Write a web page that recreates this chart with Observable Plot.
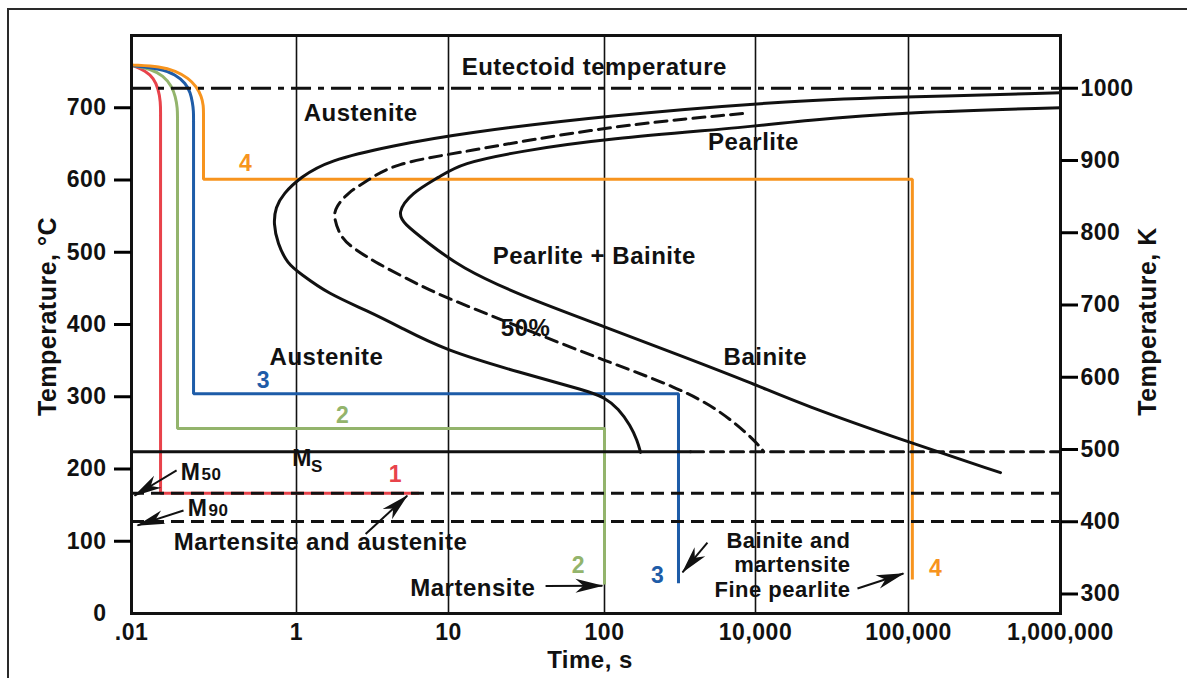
<!DOCTYPE html>
<html><head><meta charset="utf-8">
<script src="https://cdn.jsdelivr.net/npm/d3@7"></script>
<script src="https://cdn.jsdelivr.net/npm/@observablehq/plot@0.6"></script>
<style>
html,body{margin:0;padding:0;background:#fff;}
#wrap{position:relative;width:1187px;height:678px;overflow:hidden;background:#fff;}
#border{position:absolute;left:7px;top:8px;width:1400px;height:900px;border-left:2px solid #2a2a2a;border-top:2px solid #2a2a2a;}
#chart{position:absolute;left:0;top:0;}
</style></head><body>
<div id="wrap"><div id="border"></div><div id="chart"></div></div>
<script>
// ---- axes ----
const xTicks = [0.01, 1, 10, 100, 10000, 100000, 1000000];
const xTickLabels = [".01", "1", "10", "100", "10,000", "100,000", "1,000,000"];
const xGrid = [1, 10, 100, 10000, 100000];
const yTicksC = [0, 100, 200, 300, 400, 500, 600, 700];
const yTicksK = [300, 400, 500, 600, 700, 800, 900, 1000];

// ---- reference temperatures (°C) ----
const eutectoidC = 727;
const msC = 224;
const m50C = 166.5;
const m90C = 127.5;
const msSolidEnd = 1380; // s

// ---- transformation curves [time s, temperature °C] ----
const startCurve = [[1e6,720.6],[1e5,715],[19700,711],[100,689],[11.9,664.4],[4.35,647.8],[1.6,627],[1.06,603.5],[0.695,581.3],[0.556,562],[0.526,539.8],[0.589,512],[0.778,484],[1.06,470.6],[1.6,443],[2.93,419],[4.83,396],[9.3,365],[29,333],[78,308],[100,299],[153,284],[221,260],[273,239],[300,223]];
const halfCurve = [[6730,692],[100,674],[11.9,638],[4.35,622.8],[2.93,599],[2.17,582.7],[1.81,562],[1.75,548.8],[1.95,520.4],[2.37,505.2],[3.41,484.4],[5.62,460.9],[8.86,440.1],[29,396],[100,350],[927,313],[3440,281],[10000,239],[11300,224]];
const finishCurve = [[1e6,700],[1e5,694],[19700,682],[10000,674],[100,657],[29,640],[11.9,622.8],[8.86,605],[5.62,581.3],[4.62,554.3],[5.06,539.8],[7.28,513.5],[11.9,478.9],[29,440],[100,397],[1016,357],[10000,317],[19700,290],[1e5,237],[403000,195]];

// ---- cooling paths ----
const path1Head = [[0.0106,758],[0.0148,751],[0.0185,741],[0.0212,726],[0.0225,708],[0.0225,690]];
const path1Tail = [[0.0225,690],[0.0225,166.5],[6.4,166.5]];
const path2Head = [[0.0106,758],[0.017,754],[0.0245,744],[0.0306,730],[0.0341,716],[0.0361,699],[0.0361,685]];
const path2Tail = [[0.0361,685],[0.0361,256],[100,256],[100,40]];
const path3Head = [[0.0106,758],[0.0225,754],[0.0341,746],[0.0452,734],[0.0519,721],[0.0548,707],[0.0565,696],[0.0565,682]];
const path3Tail = [[0.0565,682],[0.0565,304],[955,304],[955,42]];
const path4Head = [[0.0106,759],[0.0225,757],[0.0341,751],[0.0491,741],[0.0614,729],[0.0705,716],[0.0746,703],[0.0746,690]];
const path4Tail = [[0.0746,690],[0.0746,601],[106000,601],[106000,47]];
const pathIds = ["1", "2", "3", "4"];
const pathColors = ["#e8434b", "#93b46c", "#1e5ca8", "#f7941e"];

// ---- labels ----
const regionLabels = [
  {t: 86, T: 756, text: "Eutectoid temperature"},
  {t: 2.64, T: 692, text: "Austenite"},
  {t: 9400, T: 652, text: "Pearlite"},
  {t: 86, T: 494, text: "Pearlite + Bainite"},
  {t: 31.2, T: 394.5, text: "50%"},
  {t: 1.575, T: 354, text: "Austenite"},
  {t: 11600, T: 354, text: "Bainite"},
  {t: 1.44, T: 98, text: "Martensite and austenite"},
  {t: 14.3, T: 34.6, text: "Martensite"}
];
const rightLabels = [
  {t: 41800, T: 101, text: "Bainite and"},
  {t: 41800, T: 67, text: "martensite"},
  {t: 41800, T: 32.5, text: "Fine pearlite"}
];
const pathLabels = [
  {t: 4.48, T: 192, id: "1"},
  {t: 2.01, T: 274, id: "2"},
  {t: 68, T: 66.4, id: "2"},
  {t: 0.398, T: 322.5, id: "3"},
  {t: 504, T: 52.6, id: "3"},
  {t: 0.241, T: 623, id: "4"},
  {t: 150600, T: 62.3, id: "4"}
];
const mLabels = [
  {t: 1.09, T: 214.5, text: "M"},
  {t: 0.0519, T: 195, text: "M"},
  {t: 0.0631, T: 145, text: "M"}
];
const mSubLabels = [
  {t: 1.36, T: 203.5, text: "S"},
  {t: 0.0933, T: 192, text: "50"},
  {t: 0.1135, T: 142.5, text: "90"}
];
const arrows = [
  {t1: 0.0352, T1: 198, t2: 0.01087, T2: 163},
  {t1: 0.0427, T1: 142.5, t2: 0.01183, T2: 122},
  {t1: 2.85, T1: 110, t2: 5.35, T2: 163},
  {t1: 41.9, T1: 38, t2: 97, T2: 38.5},
  {t1: 2310, T1: 98, t2: 1080, T2: 57},
  {t1: 46400, T1: 34.6, t2: 92700, T2: 55.4}
];

// ---- build tables ----
const toRows = (arr, id) => arr.map(([t, T]) => ({t, T, id}));
const heads = [...toRows(path1Head, "1"), ...toRows(path2Head, "2"), ...toRows(path3Head, "3"), ...toRows(path4Head, "4")];
const tails = [...toRows(path1Tail, "1"), ...toRows(path2Tail, "2"), ...toRows(path3Tail, "3"), ...toRows(path4Tail, "4")];
const msSolid = [[0.01, msC], [msSolidEnd, msC]];
const msDashed = [[msSolidEnd, msC], [1e6, msC]];

const FONT = "Liberation Sans, Arial, Helvetica, sans-serif";
const bold = {fontWeight: "bold", fill: "#111"};
const SVGNS = "http://www.w3.org/2000/svg";

// filled, barbed arrowhead marker
function headMarker(color, context) {
  const doc = (context && context.document) || document;
  const m = doc.createElementNS(SVGNS, "marker");
  m.setAttribute("viewBox", "-28 -8 30 16");
  m.setAttribute("markerWidth", "30");
  m.setAttribute("markerHeight", "16");
  m.setAttribute("markerUnits", "userSpaceOnUse");
  m.setAttribute("refX", "0");
  m.setAttribute("refY", "0");
  m.setAttribute("orient", "auto");
  const p = doc.createElementNS(SVGNS, "path");
  p.setAttribute("d", "M1,0L-27,-7L-19,0L-27,7Z");
  p.setAttribute("fill", color);
  p.setAttribute("stroke", "none");
  m.appendChild(p);
  return m;
}

const chart = Plot.plot({
  width: 1187,
  height: 678,
  marginLeft: 131,
  marginRight: 127,
  marginTop: 35,
  marginBottom: 65,
  style: {fontFamily: FONT, fontSize: "23px", letterSpacing: "0.5px", background: "transparent"},
  x: {type: "log", domain: xTicks, range: [131, 296, 448, 604, 755, 908, 1060], label: null},
  y: {domain: [0, 800], label: null},
  color: {domain: pathIds, range: pathColors},
  marks: [
    Plot.gridX(xGrid, {stroke: "#111", strokeOpacity: 1, strokeWidth: 1.6}),
    Plot.line(heads, {x: "t", y: "T", z: "id", stroke: "id", strokeWidth: 3, curve: "basis"}),
    Plot.line(tails, {x: "t", y: "T", z: "id", stroke: "id", strokeWidth: 3, strokeLinejoin: "miter", strokeLinecap: "butt"}),
    Plot.line(startCurve, {x: d => d[0], y: d => d[1], stroke: "#111", strokeWidth: 3, curve: "basis"}),
    Plot.line(finishCurve, {x: d => d[0], y: d => d[1], stroke: "#111", strokeWidth: 3, curve: "basis"}),
    Plot.line(halfCurve, {x: d => d[0], y: d => d[1], stroke: "#111", strokeWidth: 3, strokeDasharray: "12,7", curve: "basis"}),
    Plot.line(msSolid, {x: d => d[0], y: d => d[1], stroke: "#111", strokeWidth: 3}),
    Plot.line(msDashed, {x: d => d[0], y: d => d[1], stroke: "#111", strokeWidth: 3, strokeDasharray: "13,7"}),
    Plot.ruleY([m50C, m90C], {stroke: "#111", strokeWidth: 3, strokeDasharray: "13,7"}),
    Plot.ruleY([eutectoidC], {stroke: "#111", strokeWidth: 3, strokeDasharray: "20,7,6,7"}),
    Plot.frame({stroke: "#111", strokeWidth: 3}),
    Plot.axisY(yTicksC, {anchor: "left", tickSize: 0, tickPadding: 25, ...bold, label: null}),
    Plot.axisY(yTicksC.filter(v => v > 0), {anchor: "left", tickSize: 17, strokeWidth: 3, tickFormat: () => "", label: null}),
    Plot.axisY(yTicksK.map(k => k - 273), {anchor: "right", tickSize: 17, tickPadding: 3, strokeWidth: 3, tickFormat: d => String(Math.round(d + 273)), ...bold, label: null}),
    Plot.axisX(xTicks, {anchor: "bottom", tickSize: 0, tickPadding: 10, tickFormat: d => xTickLabels[xTicks.indexOf(d)], ...bold, label: null}),
    Plot.text(["Temperature, °C"], {frameAnchor: "left", textAnchor: "middle", lineAnchor: "middle", dx: -84, dy: -8, rotate: -90, fontSize: 25, ...bold}),
    Plot.text(["Temperature, K"], {frameAnchor: "right", textAnchor: "middle", lineAnchor: "middle", dx: 87, dy: -3, rotate: -90, fontSize: 25, ...bold}),
    Plot.text(["Time, s"], {frameAnchor: "bottom", textAnchor: "middle", lineAnchor: "middle", dy: 47, dx: -6, fontSize: 24, ...bold}),
    Plot.text(regionLabels, {x: "t", y: "T", text: "text", fontSize: 24, ...bold}),
    Plot.text(rightLabels, {x: "t", y: "T", text: "text", textAnchor: "end", fontSize: 22, ...bold}),
    Plot.text(pathLabels, {x: "t", y: "T", text: "id", fill: "id", fontSize: 23, fontWeight: "bold"}),
    Plot.text(mLabels, {x: "t", y: "T", text: "text", fontSize: 23, ...bold}),
    Plot.text(mSubLabels, {x: "t", y: "T", text: "text", fontSize: 17, ...bold}),
    Plot.link(arrows, {x1: "t1", y1: "T1", x2: "t2", y2: "T2", stroke: "#111", strokeWidth: 2, markerEnd: headMarker})
  ]
});
document.getElementById("chart").appendChild(chart);
</script>
</body></html>
